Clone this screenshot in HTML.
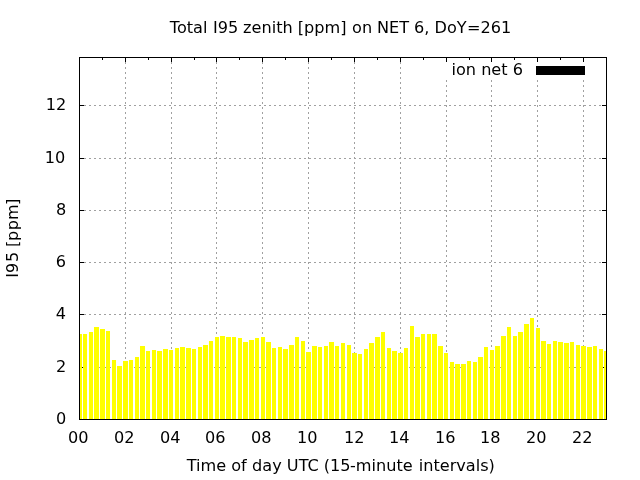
<!DOCTYPE html>
<html lang="en"><head><meta charset="utf-8"><title>Total I95 zenith [ppm] on NET 6, DoY=261</title>
<style>html,body{margin:0;padding:0;background:#fff;overflow:hidden}body{width:640px;height:480px}svg{display:block}text{font-family:"DejaVu Sans","Liberation Sans",sans-serif;font-size:16.135px;fill:#000}</style>
</head><body>
<svg width="640" height="480" viewBox="0 0 640 480">
<rect width="640" height="480" fill="#fff"/>
<g stroke="#a0a0a0" stroke-width="1" stroke-dasharray="2 3" shape-rendering="crispEdges" fill="none">
<line x1="606" y1="367.5" x2="79" y2="367.5"/>
<line x1="606" y1="314.5" x2="79" y2="314.5"/>
<line x1="606" y1="262.5" x2="79" y2="262.5"/>
<line x1="606" y1="210.5" x2="79" y2="210.5"/>
<line x1="606" y1="158.5" x2="79" y2="158.5"/>
<line x1="606" y1="105.5" x2="79" y2="105.5"/>
<line x1="125.5" y1="57" x2="125.5" y2="420"/>
<line x1="171.5" y1="57" x2="171.5" y2="420"/>
<line x1="216.5" y1="57" x2="216.5" y2="420"/>
<line x1="262.5" y1="57" x2="262.5" y2="420"/>
<line x1="308.5" y1="57" x2="308.5" y2="420"/>
<line x1="354.5" y1="57" x2="354.5" y2="420"/>
<line x1="400.5" y1="57" x2="400.5" y2="420"/>
<line x1="446.5" y1="80" x2="446.5" y2="420"/>
<line x1="491.5" y1="80" x2="491.5" y2="420"/>
<line x1="537.5" y1="80" x2="537.5" y2="420"/>
<line x1="583.5" y1="80" x2="583.5" y2="420"/>
</g>
<g fill="#000" shape-rendering="crispEdges">
<path d="M79 419h5v1h-5zM602 419h5v1h-5zM79 367h5v1h-5zM602 367h5v1h-5zM79 314h5v1h-5zM602 314h5v1h-5zM79 262h5v1h-5zM602 262h5v1h-5zM79 210h5v1h-5zM602 210h5v1h-5zM79 158h5v1h-5zM602 158h5v1h-5zM79 105h5v1h-5zM602 105h5v1h-5zM79 57v5h1v-5zM79 415v5h1v-5zM102 57v3h1v-3zM102 417v3h1v-3zM125 57v5h1v-5zM125 415v5h1v-5zM148 57v3h1v-3zM148 417v3h1v-3zM171 57v5h1v-5zM171 415v5h1v-5zM194 57v3h1v-3zM194 417v3h1v-3zM216 57v5h1v-5zM216 415v5h1v-5zM239 57v3h1v-3zM239 417v3h1v-3zM262 57v5h1v-5zM262 415v5h1v-5zM285 57v3h1v-3zM285 417v3h1v-3zM308 57v5h1v-5zM308 415v5h1v-5zM331 57v3h1v-3zM331 417v3h1v-3zM354 57v5h1v-5zM354 415v5h1v-5zM377 57v3h1v-3zM377 417v3h1v-3zM400 57v5h1v-5zM400 415v5h1v-5zM423 57v3h1v-3zM423 417v3h1v-3zM446 57v5h1v-5zM446 415v5h1v-5zM469 57v3h1v-3zM469 417v3h1v-3zM491 57v5h1v-5zM491 415v5h1v-5zM514 57v3h1v-3zM514 417v3h1v-3zM537 57v5h1v-5zM537 415v5h1v-5zM560 57v3h1v-3zM560 417v3h1v-3zM583 57v5h1v-5zM583 415v5h1v-5zM606 57v3h1v-3zM606 417v3h1v-3z"/>
</g>
<g fill="#ffff00" shape-rendering="crispEdges">
<path d="M79 334h3V419h-3zM83 334h4V419h-4zM89 332h4V419h-4zM94 327h5V419h-5zM100 329h5V419h-5zM106 331h4V419h-4zM112 360h4V419h-4zM117 366h5V419h-5zM123 361h5V419h-5zM129 360h4V419h-4zM135 357h4V419h-4zM140 346h5V419h-5zM146 351h4V419h-4zM152 350h4V419h-4zM157 351h5V419h-5zM163 349h5V419h-5zM169 350h4V419h-4zM175 348h4V419h-4zM180 347h5V419h-5zM186 348h5V419h-5zM192 349h4V419h-4zM198 347h4V419h-4zM203 345h5V419h-5zM209 341h4V419h-4zM215 337h4V419h-4zM220 336h5V419h-5zM226 337h5V419h-5zM232 337h4V419h-4zM238 338h4V419h-4zM243 342h5V419h-5zM249 340h5V419h-5zM255 338h4V419h-4zM261 337h4V419h-4zM266 342h5V419h-5zM272 348h4V419h-4zM278 347h4V419h-4zM283 349h5V419h-5zM289 345h5V419h-5zM295 337h4V419h-4zM301 341h4V419h-4zM306 352h5V419h-5zM312 346h5V419h-5zM318 347h4V419h-4zM324 346h4V419h-4zM329 342h5V419h-5zM335 346h4V419h-4zM341 343h4V419h-4zM347 345h4V419h-4zM352 353h5V419h-5zM358 354h4V419h-4zM364 349h4V419h-4zM369 343h5V419h-5zM375 337h5V419h-5zM381 332h4V419h-4zM387 348h4V419h-4zM392 351h5V419h-5zM398 353h5V419h-5zM404 348h4V419h-4zM410 326h4V419h-4zM415 337h5V419h-5zM421 334h4V419h-4zM427 334h4V419h-4zM432 334h5V419h-5zM438 346h5V419h-5zM444 353h4V419h-4zM450 362h4V419h-4zM455 364h5V419h-5zM461 364h5V419h-5zM467 361h4V419h-4zM473 362h4V419h-4zM478 357h5V419h-5zM484 347h4V419h-4zM490 350h4V419h-4zM495 346h5V419h-5zM501 336h5V419h-5zM507 327h4V419h-4zM513 336h4V419h-4zM518 332h5V419h-5zM524 324h5V419h-5zM530 318h4V419h-4zM536 328h4V419h-4zM541 341h5V419h-5zM547 344h4V419h-4zM553 341h4V419h-4zM558 342h5V419h-5zM564 343h5V419h-5zM570 342h4V419h-4zM576 345h4V419h-4zM581 346h5V419h-5zM587 347h5V419h-5zM593 346h4V419h-4zM599 349h4V419h-4zM604 351h3V419h-3z"/>
</g>
<rect x="79.5" y="57.5" width="527" height="362" fill="none" stroke="#000" stroke-width="1" shape-rendering="crispEdges"/>
<rect x="536" y="66" width="49" height="9" fill="#000" shape-rendering="crispEdges"/>
<text y="33"><tspan x="169.8">Total </tspan><tspan x="212.97">I95 </tspan><tspan x="243.1">zenith </tspan><tspan x="297.79">[ppm] </tspan><tspan x="352.08">on </tspan><tspan x="376.98">NET </tspan><tspan x="413.99">6, </tspan><tspan x="434.54">DoY</tspan><tspan x="467.04">=261</tspan></text>
<text x="523" y="75" text-anchor="end">ion net 6</text>
<text x="66.35" y="424" text-anchor="end">0</text>
<text x="66.35" y="372" text-anchor="end">2</text>
<text x="65.95" y="319" text-anchor="end">4</text>
<text x="66.1" y="267" text-anchor="end">6</text>
<text x="66.35" y="215" text-anchor="end">8</text>
<text x="65.25" y="163" text-anchor="end">10</text>
<text x="66.35" y="110" text-anchor="end">12</text>
<text x="78.25" y="443" text-anchor="middle">00</text>
<text x="124.25" y="443" text-anchor="middle">02</text>
<text x="170.25" y="443" text-anchor="middle">04</text>
<text x="215.25" y="443" text-anchor="middle">06</text>
<text x="261.25" y="443" text-anchor="middle">08</text>
<text x="307.25" y="443" text-anchor="middle">10</text>
<text x="354.25" y="443" text-anchor="middle">12</text>
<text x="399.25" y="443" text-anchor="middle">14</text>
<text x="445.25" y="443" text-anchor="middle">16</text>
<text x="490.25" y="443" text-anchor="middle">18</text>
<text x="536.25" y="443" text-anchor="middle">20</text>
<text x="582.25" y="443" text-anchor="middle">22</text>
<text y="471"><tspan x="186.75">Time </tspan><tspan x="231.25">of </tspan><tspan x="252.1">day </tspan><tspan x="286.84">UTC </tspan><tspan x="323.81">(15</tspan><tspan x="349.94">-minute </tspan><tspan x="418.7">intervals)</tspan></text>
<text transform="translate(18 277.8) rotate(-90)" x="0 4.75 15.9 25.27 30.69 36.69 47.67 57.86 72.86">I95 [ppm]</text>
</svg>
</body></html>
